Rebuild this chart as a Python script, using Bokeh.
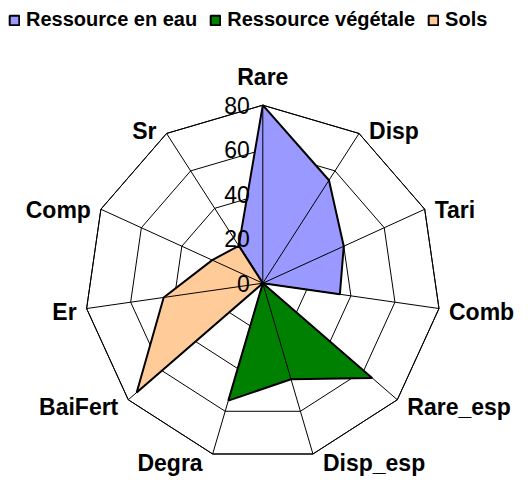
import math
from bokeh.plotting import figure
from bokeh.models import Range1d, Legend, LegendItem, ColumnDataSource
from bokeh.core.properties import value
from bokeh.embed import file_html
from bokeh.resources import INLINE

categories = ["Rare", "Disp", "Tari", "Comb", "Rare_esp", "Disp_esp",
              "Degra", "BaiFert", "Er", "Comp", "Sr"]
eau = [80, 55, 40, 35, 0, 0, 0, 0, 0, 0, 20]
vegetale = [0, 0, 0, 0, 65, 45, 55, 0, 0, 0, 0]
sols = [0, 0, 0, 0, 0, 0, 0, 75, 45, 25, 20]
ticks = [0, 20, 40, 60, 80]
tick_labels = ["0", "20", "40", "60", "80"]
series_names = ["Ressource en eau", "Ressource végétale", "Sols"]
series_colors = ["#9999FF", "#008000", "#FFCC99"]

W, H = 514, 479
K = 2.225          # pixels per value unit
CX, CY = 262.3, 282.7
RMAX = 80

n = len(categories)
angles = [2 * math.pi * i / n for i in range(n)]

p = figure(width=W, height=H, output_backend="svg", toolbar_location=None,
           x_range=Range1d(-CX / K, (W - CX) / K),
           y_range=Range1d(-(H - CY) / K, CY / K),
           min_border=0)
p.axis.visible = False
p.grid.visible = False
p.outline_line_color = None
p.background_fill_color = "white"

def pts(vals):
    xs = [v * math.sin(a) for v, a in zip(vals, angles)]
    ys = [v * math.cos(a) for v, a in zip(vals, angles)]
    return xs, ys

# rings
for t in ticks[1:]:
    xs, ys = pts([t] * n)
    p.line(xs + xs[:1], ys + ys[:1], line_color="black", line_width=1)

# series
renderers = []
for vals, col in zip([eau, vegetale, sols], series_colors):
    xs, ys = pts(vals)
    r = p.patch(xs, ys, fill_color=col, line_color="black", line_width=2)
    renderers.append(r)

# spokes
ox, oy = pts([RMAX] * n)
p.multi_line([[0, x] for x in ox], [[0, y] for y in oy], line_color="black", line_width=1)

# outer ring on top
xs, ys = pts([RMAX] * n)
p.line(xs + xs[:1], ys + ys[:1], line_color="black", line_width=1)

# tick labels along the first axis
p.text(x=[0] * len(ticks), y=ticks, text=tick_labels, x_offset=-13,
       text_align="right", text_baseline="middle",
       text_font=value("Liberation Sans"), text_font_size="23px", text_color="black")

# category labels
lx, ly, al, bl = [], [], [], []
for a in angles:
    s, c = math.sin(a), math.cos(a)
    vx, vy = RMAX * s, RMAX * c
    if abs(s) < 0.1:
        lx.append(vx)
        ly.append(vy + 15 / K)
        al.append("center")
        bl.append("bottom")
    else:
        lx.append(vx + (10 if s > 0 else -10) / K)
        ly.append(vy - (3 - 6 * c) / K)
        al.append("left" if s > 0 else "right")
        bl.append("middle")
src = ColumnDataSource(dict(x=lx, y=ly, t=categories, a=al, b=bl))
p.text(x="x", y="y", text="t", text_align="a", text_baseline="b", source=src,
       text_font=value("Liberation Sans"), text_font_style="bold",
       text_font_size="23px", text_color="black")

legend = Legend(items=[LegendItem(label=nm, renderers=[r]) for nm, r in zip(series_names, renderers)],
                orientation="horizontal", location=(8, 448),
                glyph_width=12, glyph_height=12, label_standoff=6, spacing=12,
                padding=0, margin=0, border_line_color=None, background_fill_alpha=0,
                label_text_font="Liberation Sans", label_text_font_style="bold",
                label_text_font_size="20px", label_text_color="black", label_height=12)
p.add_layout(legend)

open("out.html", "w").write(file_html(p, INLINE))
